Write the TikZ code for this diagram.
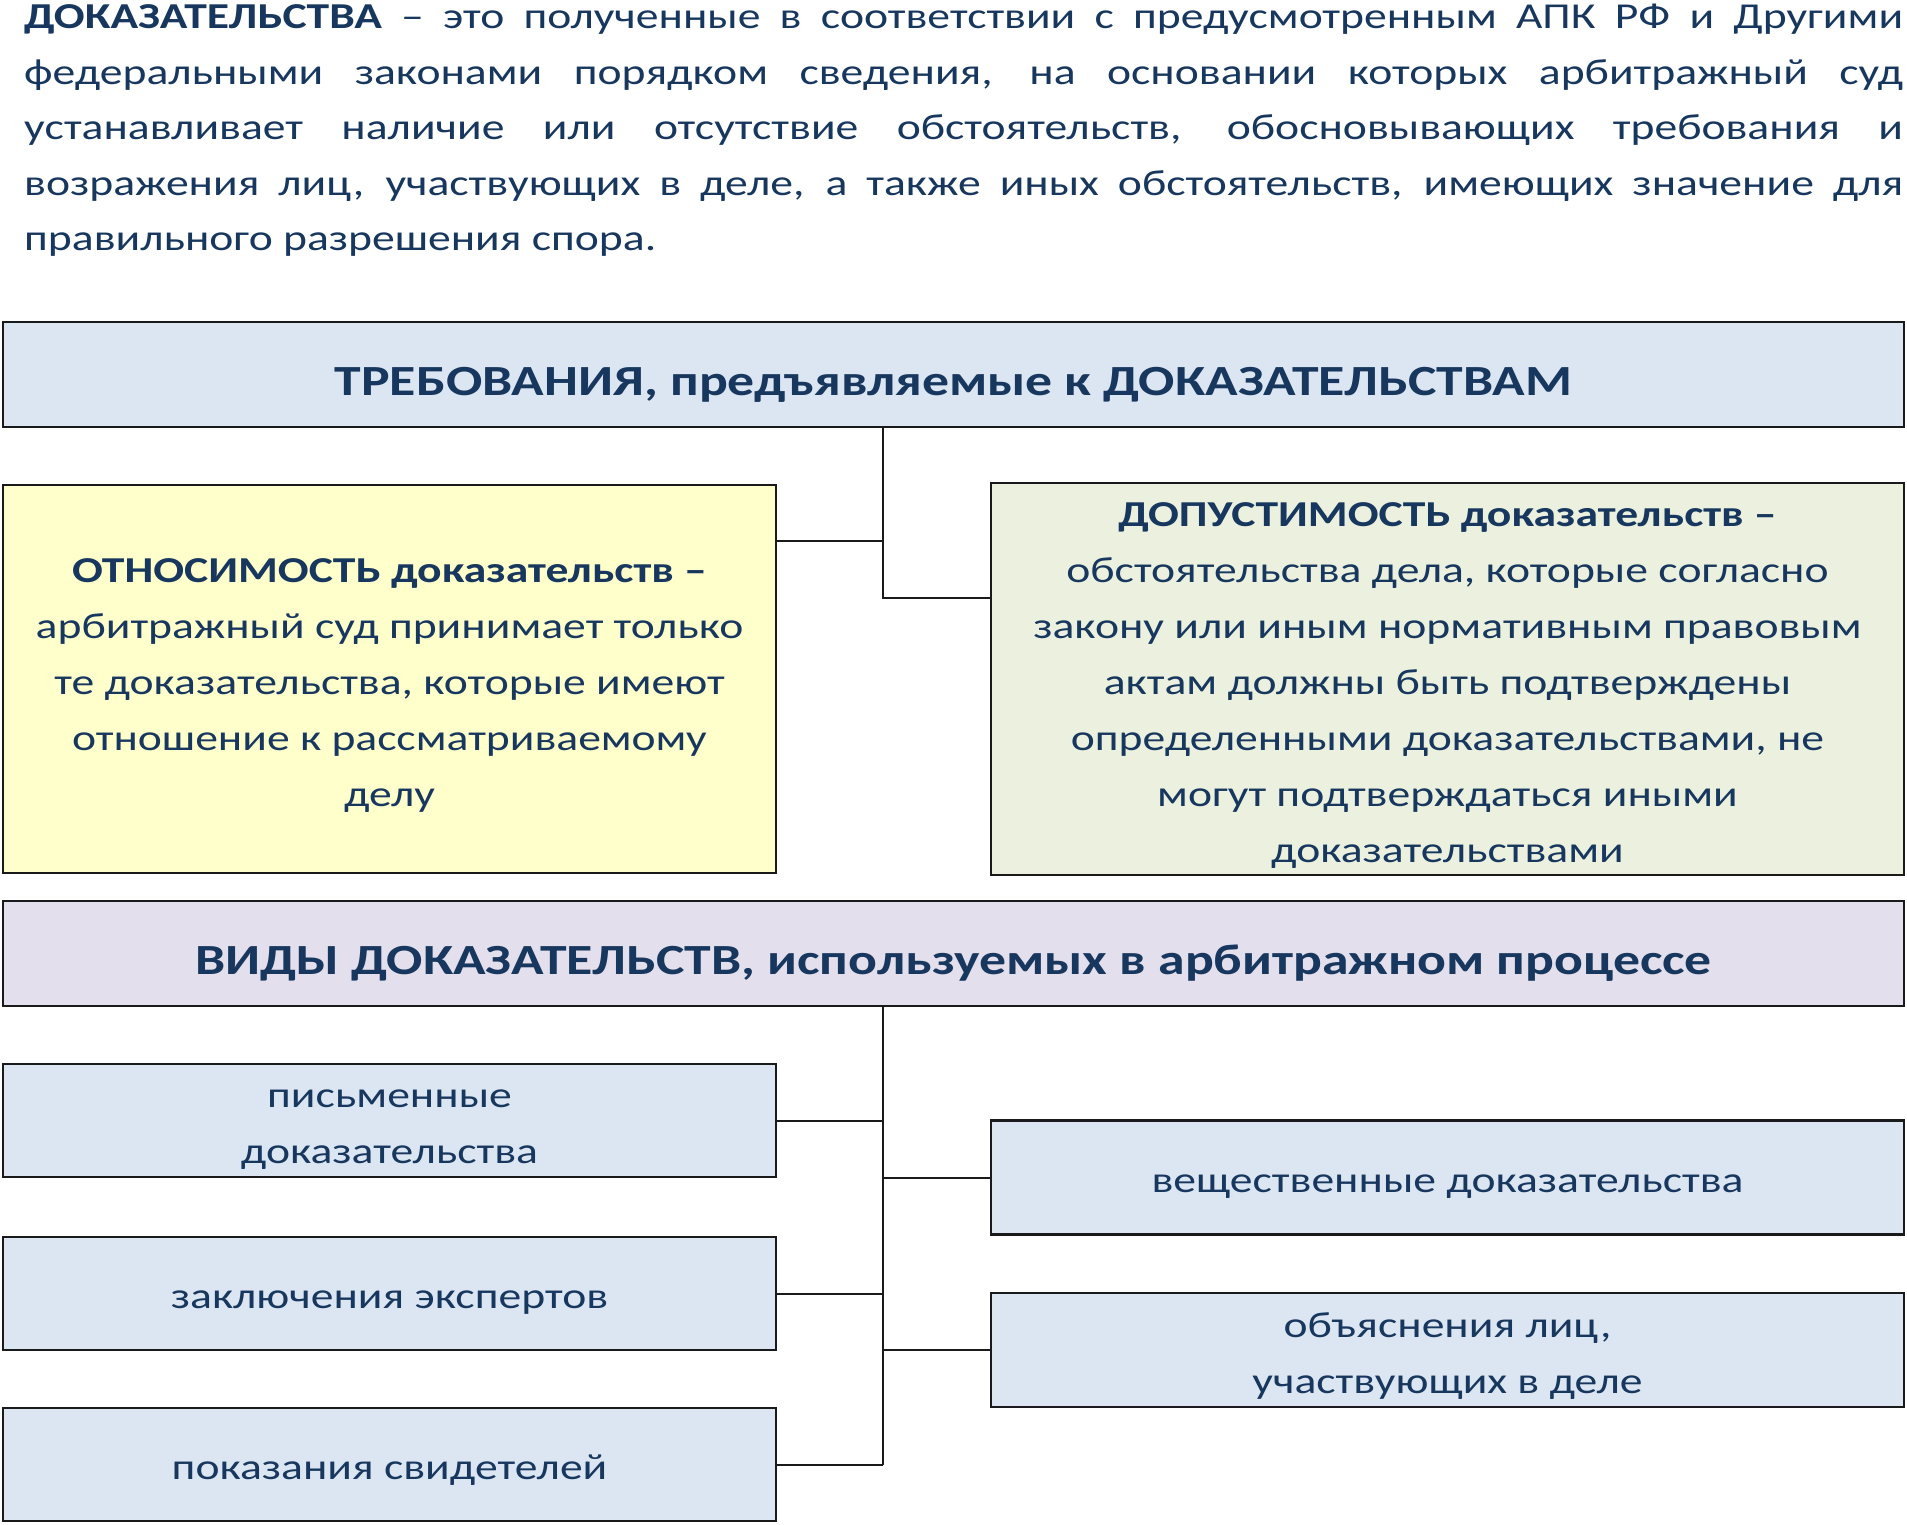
\documentclass[tikz,border=0pt]{standalone}
\usepackage{fontspec}
\setmainfont{Carlito}
\usepackage{graphicx}
\definecolor{navy}{HTML}{17375E}
\definecolor{linec}{HTML}{1A1A1A}
\definecolor{fblue}{HTML}{DCE6F2}
\definecolor{fyellow}{HTML}{FFFFCC}
\definecolor{fgreen}{HTML}{EBF1DE}
\definecolor{flav}{HTML}{E4DFEC}
\newcommand{\strf}{1.25}
\newcommand{\sx}[1]{\scalebox{\strf}[1]{#1}}
\newlength{\hw}
\setlength{\hw}{1503pt}
\newcommand{\tl}[1]{\raisebox{-4pt}[\height][\depth]{\sx{\begin{tabular}{@{}c@{}}#1\end{tabular}}}}
\newcommand{\ttlt}[1]{\raisebox{-10pt}[\height][\depth]{\sx{#1}}}
\tikzset{
  bx/.style={rectangle, draw=linec, line width=2.4pt, inner sep=0pt, text=navy, font=\fontsize{36.5}{56}\selectfont},
  ttl/.style={bx, font=\bfseries\fontsize{43}{50}\selectfont},
  hdr/.style={inner sep=0pt, text=navy, font=\fontsize{36.5}{55}\selectfont, anchor=base west},
  conn/.style={draw=linec, line width=2pt}
}
\begin{document}
\begin{tikzpicture}[x=1pt,y=-1pt]
\useasboundingbox (0,0) rectangle (1907,1525);
\fill[white] (0,0) rectangle (1907,1525);
% header paragraph
\node[hdr] (h1) at (24,29) {\sx{\makebox[\hw][s]{\textbf{ДОКАЗАТЕЛЬСТВА} – это полученные в соответствии с предусмотренным АПК РФ и Другими}}};
\node[hdr] (h2) at (24,84.5) {\sx{\makebox[\hw][s]{федеральными законами порядком сведения, на основании которых арбитражный суд}}};
\node[hdr] (h3) at (24,140) {\sx{\makebox[\hw][s]{устанавливает наличие или отсутствие обстоятельств, обосновывающих требования и}}};
\node[hdr] (h4) at (24,195.5) {\sx{\makebox[\hw][s]{возражения лиц, участвующих в деле, а также иных обстоятельств, имеющих значение для}}};
\node[hdr] (h5) at (24,251) {\sx{правильного разрешения спора.}};
% requirements
\node[ttl, fill=fblue, minimum width=1901pt, minimum height=105pt] (A) at (953.5,374.5) {\ttlt{ТРЕБОВАНИЯ, предъявляемые к ДОКАЗАТЕЛЬСТВАМ}};
\node[bx, fill=fyellow, minimum width=773pt, minimum height=388pt] (L) at (389.5,679) {\tl{\textbf{ОТНОСИМОСТЬ доказательств –}\\арбитражный суд принимает только\\те доказательства, которые имеют\\отношение к рассматриваемому\\делу}};
\node[bx, fill=fgreen, minimum width=913pt, minimum height=388pt] (R) at (1447.5,679) {\tl{\textbf{ДОПУСТИМОСТЬ доказательств –}\\обстоятельства дела, которые согласно\\закону или иным нормативным правовым\\актам должны быть подтверждены\\определенными доказательствами, не\\могут подтверждаться иными\\доказательствами}};
\coordinate (jL) at (883,541);
\coordinate (jR) at (883,598);
\draw[conn] (A.south -| jR) -- (jR) -- (jR -| R.west);
\draw[conn] (jL -| L.east) -- (jL);
% kinds
\node[ttl, fill=flav, minimum width=1901pt, minimum height=105pt] (B) at (953.5,953.5) {\ttlt{ВИДЫ ДОКАЗАТЕЛЬСТВ, используемых в арбитражном процессе}};
\node[bx, fill=fblue, minimum width=773pt, minimum height=113pt] (p1) at (389.5,1120.5) {\tl{письменные\\доказательства}};
\node[bx, fill=fblue, minimum width=773pt, minimum height=113pt] (p2) at (389.5,1293.5) {\tl{заключения экспертов}};
\node[bx, fill=fblue, minimum width=773pt, minimum height=113pt] (p3) at (389.5,1464.5) {\tl{показания свидетелей}};
\node[bx, fill=fblue, minimum width=913pt, minimum height=114pt] (r1) at (1447.5,1177.5) {\tl{вещественные доказательства}};
\node[bx, fill=fblue, minimum width=913pt, minimum height=114pt] (r2) at (1447.5,1350) {\tl{объяснения лиц,\\участвующих в деле}};
\coordinate (jB) at (883,1464.5);
\draw[conn] (B.south -| jB) -- (jB);
\draw[conn] (p1.east) -- (p1.east -| jB);
\draw[conn] (p2.east) -- (p2.east -| jB);
\draw[conn] (p3.east) -- (jB);
\draw[conn] (r1.west) -- (r1.west -| jB);
\draw[conn] (r2.west) -- (r2.west -| jB);
\end{tikzpicture}
\end{document}
